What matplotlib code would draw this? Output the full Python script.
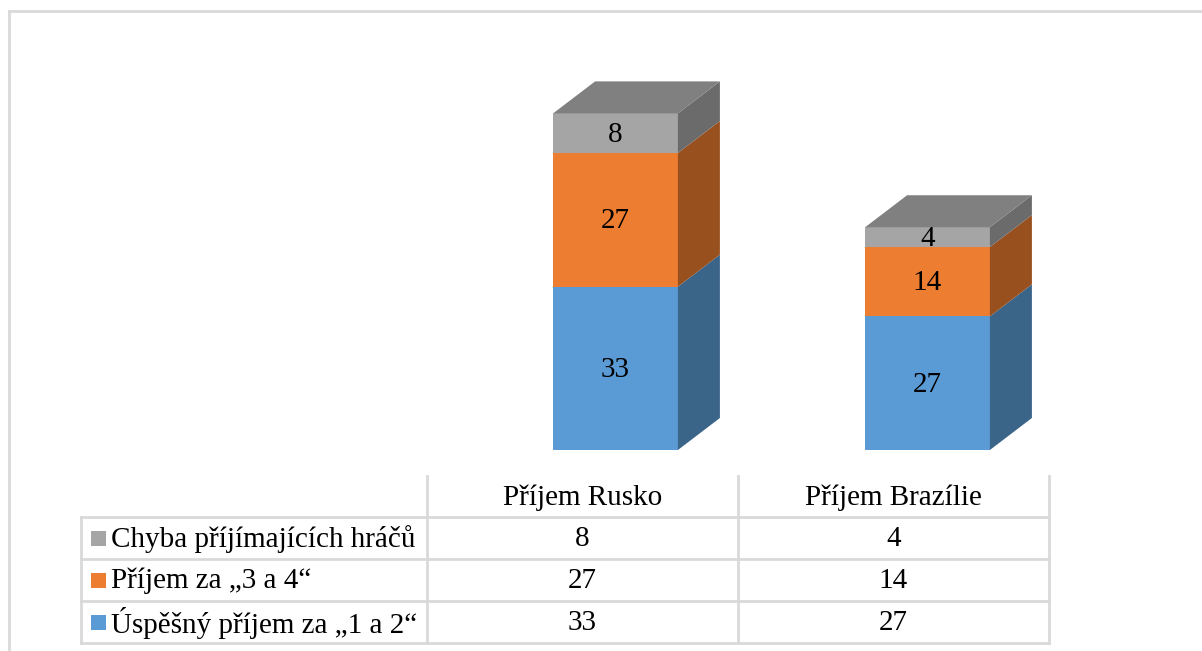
import matplotlib.pyplot as plt
from matplotlib.patches import Polygon, Rectangle

plt.rcParams['font.family'] = ['Liberation Serif', 'DejaVu Serif']

# data
kategorie = ['Příjem Rusko', 'Příjem Brazílie']
serie = ['Úspěšný příjem za „1 a 2“', 'Příjem za „3 a 4“', 'Chyba příjímajících hráčů']
uspesny = [33, 27]
prijem34 = [27, 14]
chyba = [8, 4]

hodnoty = [uspesny, prijem34, chyba]
barvy = ['#5B9BD5', '#ED7D31', '#A5A5A5']
barvy_bok = ['#3B6489', '#99501F', '#6B6B6B']
barva_vrch = '#808080'

W, H = 1202, 651
fig = plt.figure(figsize=(W / 100, H / 100), dpi=100)

# pozadi: ramecek a tabulka v pixelech
bg = fig.add_axes([0, 0, 1, 1])
bg.set_xlim(0, W)
bg.set_ylim(H, 0)
bg.axis('off')
lc = '#d9d9d9'
bg.plot([9, 9], [11, H], color=lc, lw=2)
bg.plot([9, W], [11, 11], color=lc, lw=2)

# tabulka
x_cols = [81, 427, 738, 1049]
y_rows = [476, 517, 559, 601, 643]
for i, x in enumerate(x_cols):
    y0 = y_rows[0] if i > 0 else y_rows[1]
    bg.plot([x, x], [y0, y_rows[-1]], color=lc, lw=2)
for y in y_rows[1:]:
    bg.plot([x_cols[0], x_cols[-1]], [y, y], color=lc, lw=2)

fs = 21
for j, k in enumerate(kategorie):
    cx = (x_cols[j + 1] + x_cols[j + 2]) / 2
    bg.text(cx, (y_rows[0] + y_rows[1]) / 2 + 1, k, ha='center', va='center', fontsize=fs)

# radky odshora: chyba, 3 a 4, uspesny
for r, s in enumerate([2, 1, 0]):
    cy = (y_rows[r + 1] + y_rows[r + 2]) / 2
    bg.add_patch(Rectangle((91, cy - 7), 15, 15, color=barvy[s], lw=0))
    bg.text(111, cy + 1, serie[s], ha='left', va='center', fontsize=fs)
    for j in range(len(kategorie)):
        cx = (x_cols[j + 1] + x_cols[j + 2]) / 2
        bg.text(cx, cy + 1, str(hodnoty[s][j]), ha='center', va='center', fontsize=fs)

# 3D sloupce
ax = fig.add_axes([459.5 / W, 1 - 450 / H, 624 / W, 396 / H])
ax.set_xlim(-0.5, 1.5)
ax.set_ylim(0, 80)
ax.axis('off')
sirka = 0.40
dx = 42 / 312
dy = 32 / 4.95

for j in range(len(kategorie)):
    dole = 0
    for s in range(len(serie)):
        v = hodnoty[s][j]
        ax.bar(j, v, bottom=dole, width=sirka, color=barvy[s], lw=0)
        xr = j + sirka / 2
        ax.add_patch(Polygon([(xr, dole), (xr + dx, dole + dy), (xr + dx, dole + v + dy), (xr, dole + v)],
                             closed=True, color=barvy_bok[s], lw=0))
        ax.text(j, dole + v / 2 - 0.3, str(v), ha='center', va='center', fontsize=21)
        dole += v
    xl = j - sirka / 2
    ax.add_patch(Polygon([(xl, dole), (xl + dx, dole + dy), (xr + dx, dole + dy), (xr, dole)],
                         closed=True, color=barva_vrch, lw=0))

fig.savefig('out.png', dpi=100)
